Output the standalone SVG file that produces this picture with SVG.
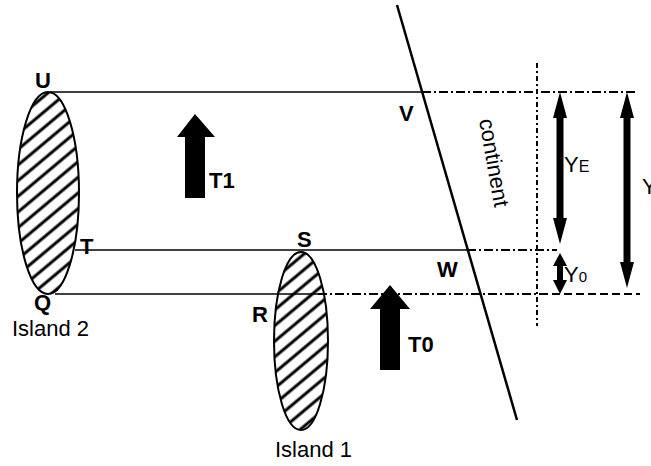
<svg xmlns="http://www.w3.org/2000/svg" width="651" height="466" viewBox="0 0 651 466">
<style>
.lbl{font-family:"Liberation Sans",Arial,sans-serif;font-weight:bold;font-size:22px;fill:#000}
.isl{font-family:"Liberation Sans",Arial,sans-serif;font-size:22px;fill:#000}
.solid{stroke:#000;stroke-width:1.5;fill:none}
.dd{stroke:#000;stroke-width:2;fill:none;stroke-dasharray:9 3 2 3}
.dash{stroke:#000;stroke-width:2;fill:none;stroke-dasharray:8 4}
.dot{stroke:#000;stroke-width:2;fill:none;stroke-dasharray:5 3 2 3}
.ell{fill:url(#hatch);stroke:#000;stroke-width:2}
</style>
<defs>
<pattern id="hatch" patternUnits="userSpaceOnUse" width="12" height="12" patternTransform="rotate(-40)">
<rect width="12" height="12" fill="#fff"/>
<line x1="0" y1="6" x2="12" y2="6" stroke="#000" stroke-width="3"/>
</pattern>
</defs>
<rect width="651" height="466" fill="#fff"/>
<g id="island2">
<ellipse class="ell" cx="48" cy="193" rx="31" ry="101"/>
<text class="isl" x="12" y="336">Island 2</text>
</g>
<g id="island1">
<ellipse class="ell" cx="301" cy="341" rx="27" ry="89"/>
<text class="isl" x="275" y="457">Island 1</text>
</g>
<g id="connectors">
<line class="solid" x1="50" y1="92" x2="422" y2="92"/>
<line class="dd" x1="422" y1="92" x2="636" y2="92"/>
<line class="solid" x1="75" y1="250" x2="467" y2="250"/>
<line class="dd" x1="467" y1="250" x2="557" y2="250"/>
<line class="solid" x1="55" y1="294" x2="318" y2="294"/>
<line class="dd" x1="318" y1="294" x2="540" y2="294"/>
<line class="dash" x1="540" y1="294" x2="640" y2="294"/>
<line class="dot" x1="537" y1="63" x2="537" y2="326"/>
</g>
<g id="continent">
<line x1="397" y1="5" x2="517" y2="420" stroke="#000" stroke-width="2.5"/>
<text class="isl" transform="translate(479,120) rotate(80)" font-size="21">continent</text>
</g>
<g id="labels">
<text class="lbl" x="35" y="88">U</text>
<text class="lbl" x="399" y="121">V</text>
<text class="lbl" x="80" y="254">T</text>
<text class="lbl" x="297" y="247">S</text>
<text class="lbl" x="437" y="277">W</text>
<text class="lbl" x="34" y="310">Q</text>
<text class="lbl" x="252" y="322">R</text>
</g>
<g id="T1">
<polygon points="195,114 177,137 185,137 185,198 205,198 205,137 215,137" fill="#000"/>
<text class="lbl" x="209" y="188">T1</text>
</g>
<g id="T0">
<polygon points="390,285 370,309 380,309 380,370 400,370 400,309 410,309" fill="#000"/>
<text class="lbl" x="408" y="352">T0</text>
</g>
<g id="YE">
<polygon points="560,92 553,118 556.5,118 556.5,218 553,218 560,244 567,218 563.5,218 563.5,118 567,118" fill="#000"/>
<text class="isl" x="564" y="172" font-size="23">Y<tspan font-size="16">E</tspan></text>
</g>
<g id="Y0">
<polygon points="560,253 553,266 557,266 557,280 553,280 560,294 567,280 563,280 563,266 567,266" fill="#000"/>
<text class="isl" x="564" y="282" font-size="23">Y<tspan font-size="15">0</tspan></text>
</g>
<g id="Y">
<polygon points="627,92 620,118 623.5,118 623.5,262 620,262 627,288 634,262 630.5,262 630.5,118 634,118" fill="#000"/>
<text class="isl" x="642" y="194" font-size="23">Y</text>
</g>
</svg>
